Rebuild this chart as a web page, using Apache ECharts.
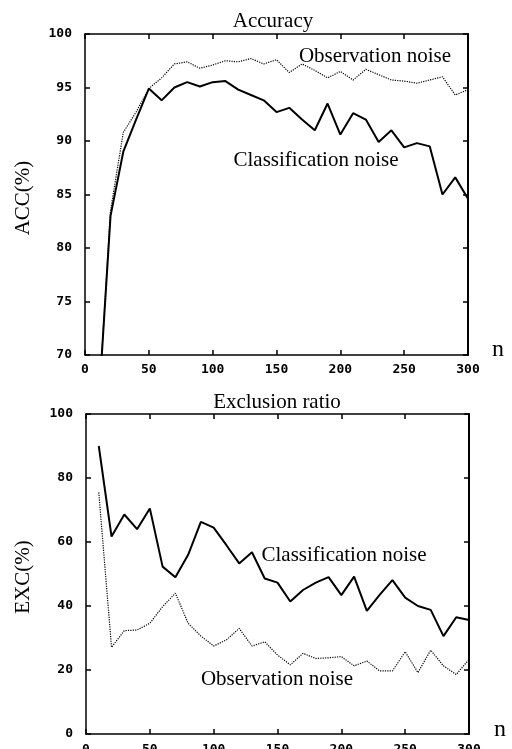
<!DOCTYPE html>
<html>
<head>
<meta charset="utf-8">
<script src="https://cdn.jsdelivr.net/npm/echarts@6/dist/echarts.min.js"></script>
<style>html,body{margin:0;padding:0;background:#fff}#c{width:512px;height:749px}</style>
</head>
<body>
<div id="c"></div>
<script>
var nValues = [10,20,30,40,50,60,70,80,90,100,110,120,130,140,150,160,170,180,190,200,210,220,230,240,250,260,270,280,290,300];
var accClassification = [64,83,89,92,94.9,93.8,95.0,95.5,95.1,95.5,95.6,94.8,94.3,93.8,92.7,93.1,92.0,91.0,93.5,90.6,92.6,92.0,89.9,91.0,89.4,89.8,89.5,85.0,86.6,84.6];
var accObservation = [64,83.5,90.8,92.7,94.9,95.9,97.2,97.4,96.8,97.1,97.5,97.4,97.7,97.2,97.6,96.4,97.2,96.6,95.9,96.5,95.7,96.7,96.2,95.7,95.6,95.4,95.7,96.0,94.3,94.8];
var excClassification = [90,61.7,68.6,64,70.5,52.3,49,56,66.3,64.5,59,53.3,56.8,48.6,47.3,41.4,45,47.3,49,43.4,49.2,38.5,43.5,48.1,42.6,40,38.8,30.6,36.5,35.6];
var excObservation = [75.5,27.1,32.3,32.5,34.6,39.8,44,34.6,30.6,27.5,29.4,33,27.5,28.8,24.7,21.6,25.2,23.6,23.8,24.2,21.3,22.8,19.7,19.7,25.7,19.2,26.2,21.3,18.6,23.3];
var titles = ['Accuracy', 'Exclusion ratio'];
var yNames = ['ACC(%)', 'EXC(%)'];

function pairs(ys){ return nValues.map(function(n,i){ return [n, ys[i]]; }); }

var serif = 'Liberation Serif';
var tickFont = {fontFamily:'DejaVu Sans Mono', fontWeight:'bold', fontSize:13, color:'#000'};
var lineW = 1.5;

function xAx(grid, pos, showLabel, margin){
  return {type:'value', gridIndex:grid, position:pos, min:0, max:300, interval:50,
    axisLine:{show:true, onZero:false, lineStyle:{color:'#000', width:lineW}},
    axisTick:{show:true, inside:true, length:5, lineStyle:{color:'#000', width:1.5}},
    axisLabel:Object.assign({show:showLabel, margin:margin, hideOverlap:false}, tickFont),
    splitLine:{show:false}};
}
function yAx(grid, pos, showLabel, min, max, interval){
  return {type:'value', gridIndex:grid, position:pos, min:min, max:max, interval:interval,
    axisLine:{show:true, onZero:false, lineStyle:{color:'#000', width:pos==='right'?2:lineW}},
    axisTick:{show:true, inside:true, length:5, lineStyle:{color:'#000', width:1.5}},
    axisLabel:Object.assign({show:showLabel, margin:13}, tickFont),
    splitLine:{show:false}};
}

function txt(s, x, y, size, rot){
  var o = {type:'text', x:x, y:y, style:{text:s, font:size+'px "'+serif+'"', fill:'#000', align:'center', verticalAlign:'middle'}};
  if (rot) o.rotation = rot;
  return o;
}

var chart = echarts.init(document.getElementById('c'), null, {renderer:'canvas'});
chart.setOption({
  animation:false,
  backgroundColor:'#fff',
  grid:[
    {left:85, top:34, width:383, height:321, containLabel:false, outerBoundsMode:'none'},
    {left:86, top:414, width:383, height:320, containLabel:false, outerBoundsMode:'none'}
  ],
  xAxis:[ xAx(0,'bottom',true,8), xAx(0,'top',false,8), xAx(1,'bottom',true,9), xAx(1,'top',false,8) ],
  yAxis:[ yAx(0,'left',true,70,100,5), yAx(0,'right',false,70,100,5), yAx(1,'left',true,0,100,20), yAx(1,'right',false,0,100,20) ],
  series:[
    {type:'line', name:'Classification noise', xAxisIndex:0, yAxisIndex:0, data:pairs(accClassification), symbol:'none', clip:true, lineStyle:{color:'#000', width:2}},
    {type:'line', name:'Observation noise', xAxisIndex:0, yAxisIndex:0, data:pairs(accObservation), symbol:'none', clip:true, lineStyle:{color:'#000', width:1.2, type:'dotted'}},
    {type:'line', name:'Classification noise', xAxisIndex:2, yAxisIndex:2, data:pairs(excClassification), symbol:'none', clip:true, lineStyle:{color:'#000', width:2}},
    {type:'line', name:'Observation noise', xAxisIndex:2, yAxisIndex:2, data:pairs(excObservation), symbol:'none', clip:true, lineStyle:{color:'#000', width:1.2, type:'dotted'}}
  ],
  graphic:[
    txt(titles[0], 273, 21, 21),
    txt(titles[1], 277, 402, 21),
    txt('Observation noise', 375, 56, 21),
    txt('Classification noise', 316, 160, 21),
    txt('Classification noise', 344, 555, 21),
    txt('Observation noise', 277, 679, 21),
    txt(yNames[0], 23, 198, 21, Math.PI/2),
    txt(yNames[1], 23, 577, 21, Math.PI/2),
    txt('n', 498, 350, 24),
    txt('n', 500, 730, 24)
  ]
});
</script>
</body>
</html>
